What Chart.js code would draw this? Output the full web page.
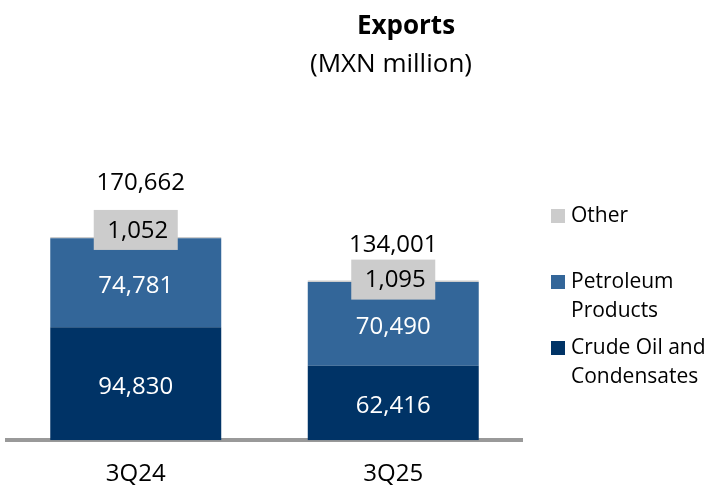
<!DOCTYPE html>
<html>
<head>
<meta charset="utf-8">
<script src="https://cdn.jsdelivr.net/npm/chart.js@4"></script>
<style>
  html, body { margin: 0; padding: 0; background: #fff; }
  #wrap { width: 711px; height: 487px; position: relative; }
</style>
</head>
<body>
<div id="wrap"><canvas id="exports"></canvas></div>
<script>
const quarters = ["3Q24", "3Q25"];
const crudeOil = [94830, 62416];
const petroleum = [74781, 70490];
const other = [1052, 1095];
const totals = [170662, 134001];
const legendNames = [["Other"], ["Petroleum", "Products"], ["Crude Oil and", "Condensates"]];

const FONT = "'Open Sans', 'DejaVu Sans', sans-serif";
const fmt = v => v.toLocaleString("en-US");

// labels, boxes, title and legend drawn on the canvas
const extras = {
  id: "extras",
  afterDatasetsDraw(chart) {
    const ctx = chart.ctx;
    const crudeMeta = chart.getDatasetMeta(0);
    const petMeta = chart.getDatasetMeta(1);
    const otherMeta = chart.getDatasetMeta(2);
    ctx.save();
    ctx.textAlign = "center";
    ctx.textBaseline = "middle";
    ctx.font = "24px " + FONT;
    ctx.fillStyle = "#ffffff";
    [crudeMeta, petMeta].forEach((meta, d) => {
      meta.data.forEach((bar, i) => {
        const v = chart.data.datasets[d].data[i];
        ctx.fillText(fmt(v), bar.x, (bar.y + bar.base) / 2 + 3);
      });
    });
    const boxOff = [7, 1];
    const totalOff = [27, 14];
    otherMeta.data.forEach((bar, i) => {
      const cy = bar.y - boxOff[i];
      ctx.fillStyle = "#cccccc";
      ctx.fillRect(bar.x - 42, cy - 20, 84, 40);
      ctx.fillStyle = "#000000";
      ctx.fillText(fmt(other[i]), bar.x + 2, cy + 1);
      ctx.fillText(fmt(totals[i]), bar.x + (i === 0 ? 5 : 0), cy - 20 - totalOff[i]);
    });
    ctx.restore();
  },
  afterDraw(chart) {
    const ctx = chart.ctx;
    ctx.save();
    ctx.fillStyle = "#000";
    ctx.textAlign = "center";
    ctx.textBaseline = "middle";
    ctx.font = "bold 26px " + FONT;
    ctx.fillText("Exports", 406, 27);
    ctx.font = "26px " + FONT;
    ctx.fillText("(MXN million)", 391, 65);

    // legend: Other, Petroleum Products, Crude Oil and Condensates
    const order = [2, 1, 0];
    const rowY = [216, 282, 348];
    ctx.textAlign = "left";
    ctx.font = "21px " + FONT;
    order.forEach((d, k) => {
      ctx.fillStyle = chart.data.datasets[d].backgroundColor;
      ctx.fillRect(551, rowY[k] - 7, 14, 14);
      ctx.fillStyle = "#000";
      legendNames[k].forEach((line, j) => {
        ctx.fillText(line, 571, rowY[k] + j * 29);
      });
    });
    ctx.restore();
  }
};

new Chart(document.getElementById("exports"), {
  type: "bar",
  data: {
    labels: quarters,
    datasets: [
      { label: "Crude Oil and Condensates", data: crudeOil, backgroundColor: "#003366" },
      { label: "Petroleum Products", data: petroleum, backgroundColor: "#336699" },
      { label: "Other", data: other, backgroundColor: "#cccccc" }
    ]
  },
  options: {
    responsive: true,
    maintainAspectRatio: false,
    animation: false,
    layout: { padding: { top: 202, left: 7, right: 189, bottom: -22 } },
    datasets: { bar: { categoryPercentage: 1, barPercentage: 0.664 } },
    plugins: {
      legend: { display: false },
      tooltip: { enabled: false }
    },
    scales: {
      x: {
        stacked: true,
        grid: { display: false, drawTicks: false },
        border: { display: true, color: "#999999", width: 4 },
        ticks: { color: "#000", font: { family: FONT, size: 24 }, padding: 20 }
      },
      y: {
        stacked: true,
        display: false,
        min: 0,
        max: 200000
      }
    }
  },
  plugins: [extras]
});
</script>
</body>
</html>
